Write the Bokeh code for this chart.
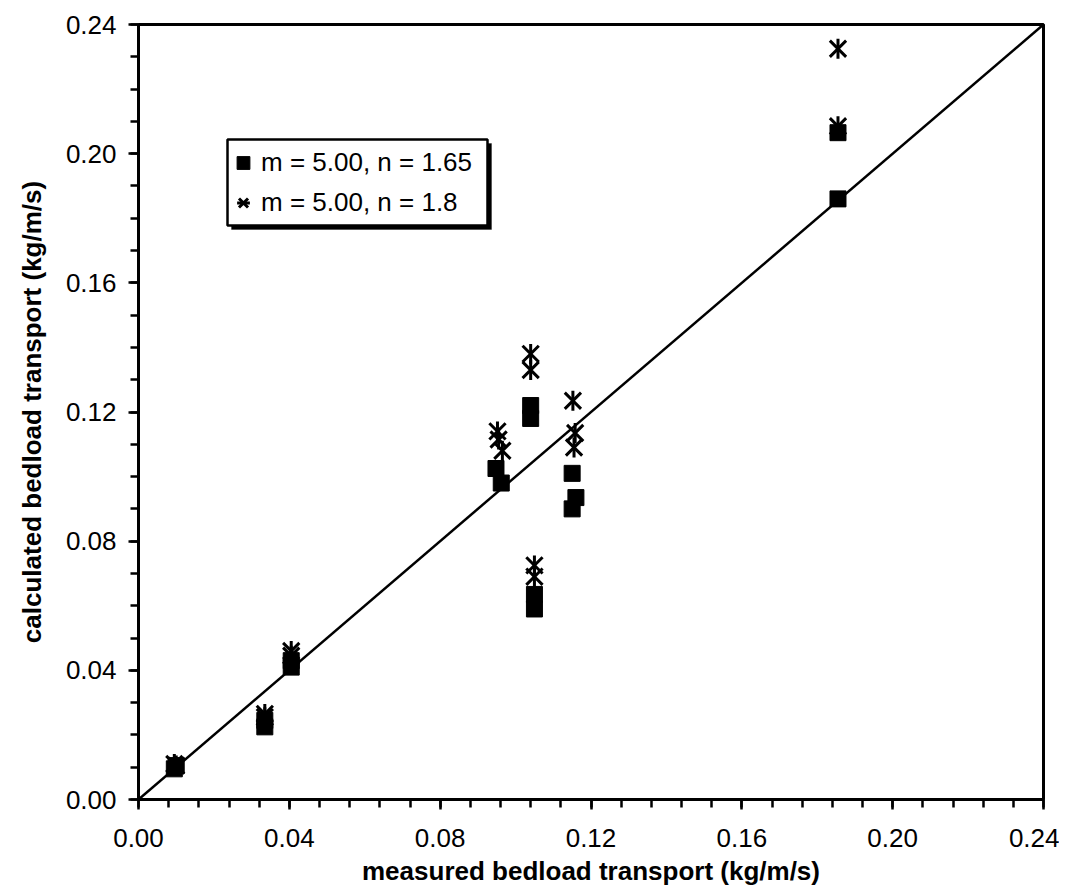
from bokeh.plotting import figure
from bokeh.models import (Range1d, FixedTicker, Legend, LegendItem, BoxAnnotation)
from bokeh.embed import file_html
from bokeh.resources import INLINE

# ---- data ----
sq_measured = [0.0095, 0.0100, 0.0335, 0.0335, 0.0405, 0.0405, 0.0948, 0.0962,
               0.1040, 0.1040, 0.1050, 0.1050, 0.1150, 0.1150, 0.1160, 0.1855, 0.1855]
sq_calc = [0.0095, 0.0105, 0.0245, 0.0225, 0.0430, 0.0410, 0.1025, 0.0980,
           0.1220, 0.1180, 0.0635, 0.0590, 0.1010, 0.0900, 0.0935, 0.2065, 0.1860]

st_measured = [0.0095, 0.0100, 0.0335, 0.0335, 0.0405, 0.0405, 0.0952, 0.0955, 0.0965,
               0.1040, 0.1040, 0.1050, 0.1050, 0.1152, 0.1158, 0.1155, 0.1855, 0.1855]
st_calc = [0.0110, 0.0105, 0.0265, 0.0255, 0.0460, 0.0445, 0.1140, 0.1115, 0.1080,
           0.1380, 0.1330, 0.0725, 0.0690, 0.1235, 0.1135, 0.1090, 0.2325, 0.2085]

line_x = [0.0, 0.24]
line_y = [0.0, 0.24]

tick_values = [0.0, 0.04, 0.08, 0.12, 0.16, 0.20, 0.24]
tick_labels = ["0.00", "0.04", "0.08", "0.12", "0.16", "0.20", "0.24"]
x_minor = [round(i * 0.008, 3) for i in range(31)]
y_minor = [round(i * 0.01, 2) for i in range(25)]

label_sq = "m = 5.00, n = 1.65"
label_st = "m = 5.00, n = 1.8"
x_title = "measured bedload transport (kg/m/s)"
y_title = "calculated bedload transport (kg/m/s)"

FONT = "Liberation Sans"

p = figure(frame_width=905, frame_height=775, output_backend="svg",
           toolbar_location=None, x_range=Range1d(0, 0.24), y_range=Range1d(0, 0.24),
           min_border_left=138, min_border_right=16, min_border_top=24,
           min_border_bottom=90)
p.background_fill_color = "white"
p.border_fill_color = "white"
p.grid.visible = False
p.outline_line_color = "black"
p.outline_line_width = 3

p.xaxis.ticker = FixedTicker(ticks=tick_values, minor_ticks=x_minor)
p.yaxis.ticker = FixedTicker(ticks=tick_values, minor_ticks=y_minor)
for ax in (p.xaxis, p.yaxis):
    ax.major_label_overrides = dict(zip(tick_values, tick_labels))
    ax.axis_line_width = 3
    ax.axis_line_color = "black"
    ax.major_tick_line_width = 2.5
    ax.minor_tick_line_width = 2.5
    ax.major_tick_line_color = "black"
    ax.minor_tick_line_color = "black"
    ax.major_tick_in = 0
    ax.major_tick_out = 10
    ax.minor_tick_in = 0
    ax.minor_tick_out = 8
    ax.major_label_text_font = FONT
    ax.major_label_text_font_size = "26px"
    ax.major_label_text_color = "black"
    ax.axis_label_text_font = FONT
    ax.axis_label_text_font_size = "26px"
    ax.axis_label_text_font_style = "bold"
    ax.axis_label_text_color = "black"

p.xaxis.axis_label = x_title
p.yaxis.axis_label = y_title
p.xaxis.major_label_standoff = 19
p.xaxis.axis_label_standoff = 6
p.yaxis.major_label_standoff = 12
p.yaxis.axis_label_standoff = 16

# 1:1 line
p.line(line_x, line_y, line_color="black", line_width=2.5)

# series
r_sq = p.scatter(sq_measured, sq_calc, marker="square", size=16,
                 fill_color="black", line_color="black")
r_st1 = p.scatter(st_measured, st_calc, marker="x", size=23,
                  line_color="black", line_width=3)
r_st2 = p.scatter(st_measured, st_calc, marker="dash", size=20, angle=1.5708,
                  line_color="black", line_width=3)

# legend frame with drop shadow (screen units, relative to the plot frame)
shadow = BoxAnnotation(left=93, right=353, top=656, bottom=570,
                       left_units="screen", right_units="screen",
                       top_units="screen", bottom_units="screen",
                       fill_color="black", fill_alpha=1.0, line_color="black")
box = BoxAnnotation(left=89, right=349, top=660, bottom=574,
                    left_units="screen", right_units="screen",
                    top_units="screen", bottom_units="screen",
                    fill_color="white", fill_alpha=1.0, line_color="black",
                    line_width=2.5, line_alpha=1.0)
p.add_layout(shadow)
p.add_layout(box)

legend = Legend(items=[LegendItem(label=label_sq, renderers=[r_sq]),
                       LegendItem(label=label_st, renderers=[r_st1, r_st2])],
                location=(89, 579), padding=0, spacing=4,
                glyph_width=32, glyph_height=33, label_height=36,
                label_standoff=2, border_line_color=None,
                background_fill_alpha=0.0,
                label_text_font=FONT, label_text_font_size="26px",
                label_text_color="black")
p.add_layout(legend, "center")

open("out.html", "w").write(file_html(p, INLINE))
